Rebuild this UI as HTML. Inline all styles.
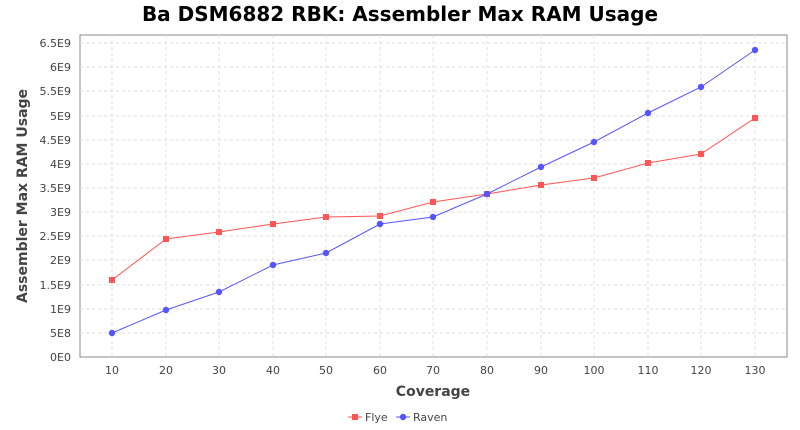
<!DOCTYPE html>
<html><head><meta charset="utf-8"><style>
html,body{margin:0;padding:0;background:#fff;width:800px;height:430px;overflow:hidden}
svg text{font-family:"DejaVu Sans",sans-serif}
</style></head><body>
<svg width="800" height="430" viewBox="0 0 800 430" xmlns="http://www.w3.org/2000/svg">
<rect width="800" height="430" fill="#fff"/>
<text x="400" y="21" text-anchor="middle" font-size="20" font-weight="bold" fill="#000">Ba DSM6882 RBK: Assembler Max RAM Usage</text>
<rect x="80" y="35" width="707" height="322" fill="#fff" stroke="#888" stroke-width="1"/>
<g stroke="#ddd" stroke-dasharray="3,3" stroke-width="1">
<line x1="80" x2="787" y1="333" y2="333"/><line x1="80" x2="787" y1="309" y2="309"/><line x1="80" x2="787" y1="285" y2="285"/><line x1="80" x2="787" y1="260" y2="260"/><line x1="80" x2="787" y1="236" y2="236"/><line x1="80" x2="787" y1="212" y2="212"/><line x1="80" x2="787" y1="188" y2="188"/><line x1="80" x2="787" y1="164" y2="164"/><line x1="80" x2="787" y1="140" y2="140"/><line x1="80" x2="787" y1="116" y2="116"/><line x1="80" x2="787" y1="91" y2="91"/><line x1="80" x2="787" y1="67" y2="67"/><line x1="80" x2="787" y1="43" y2="43"/>
<line y1="35" y2="357" x1="112" x2="112"/><line y1="35" y2="357" x1="166" x2="166"/><line y1="35" y2="357" x1="219" x2="219"/><line y1="35" y2="357" x1="273" x2="273"/><line y1="35" y2="357" x1="326" x2="326"/><line y1="35" y2="357" x1="380" x2="380"/><line y1="35" y2="357" x1="433" x2="433"/><line y1="35" y2="357" x1="487" x2="487"/><line y1="35" y2="357" x1="541" x2="541"/><line y1="35" y2="357" x1="594" x2="594"/><line y1="35" y2="357" x1="648" x2="648"/><line y1="35" y2="357" x1="701" x2="701"/><line y1="35" y2="357" x1="755" x2="755"/>
</g>
<g font-size="11" fill="#444" text-anchor="end">
<text x="71" y="361">0E0</text><text x="71" y="337">5E8</text><text x="71" y="313">1E9</text><text x="71" y="289">1.5E9</text><text x="71" y="264">2E9</text><text x="71" y="240">2.5E9</text><text x="71" y="216">3E9</text><text x="71" y="192">3.5E9</text><text x="71" y="168">4E9</text><text x="71" y="144">4.5E9</text><text x="71" y="120">5E9</text><text x="71" y="95">5.5E9</text><text x="71" y="71">6E9</text><text x="71" y="47">6.5E9</text>
</g>
<g font-size="11" fill="#444" text-anchor="middle">
<text x="112" y="374">10</text><text x="166" y="374">20</text><text x="219" y="374">30</text><text x="273" y="374">40</text><text x="326" y="374">50</text><text x="380" y="374">60</text><text x="433" y="374">70</text><text x="487" y="374">80</text><text x="541" y="374">90</text><text x="594" y="374">100</text><text x="648" y="374">110</text><text x="701" y="374">120</text><text x="755" y="374">130</text>
</g>
<text x="433" y="396" text-anchor="middle" font-size="14" font-weight="bold" fill="#444">Coverage</text>
<text transform="translate(27,196) rotate(-90)" text-anchor="middle" font-size="14" font-weight="bold" fill="#444">Assembler Max RAM Usage</text>
<polyline fill="none" stroke="#ff5555" stroke-width="1" points="112,280 166,239 219,232 273,224 326,217 380,216 433,202 487,194 541,185 594,178 648,163 701,154 755,118"/>
<g fill="#ff5555">
<rect x="109" y="277" width="6" height="6"/><rect x="163" y="236" width="6" height="6"/><rect x="216" y="229" width="6" height="6"/><rect x="270" y="221" width="6" height="6"/><rect x="323" y="214" width="6" height="6"/><rect x="377" y="213" width="6" height="6"/><rect x="430" y="199" width="6" height="6"/><rect x="484" y="191" width="6" height="6"/><rect x="538" y="182" width="6" height="6"/><rect x="591" y="175" width="6" height="6"/><rect x="645" y="160" width="6" height="6"/><rect x="698" y="151" width="6" height="6"/><rect x="752" y="115" width="6" height="6"/>
</g>
<polyline fill="none" stroke="#5555ff" stroke-width="1" points="112,333 166,310 219,292 273,265 326,253 380,224 433,217 487,194 541,167 594,142 648,113 701,87 755,50"/>
<g fill="#5555ff">
<circle cx="112" cy="333" r="3.2"/><circle cx="166" cy="310" r="3.2"/><circle cx="219" cy="292" r="3.2"/><circle cx="273" cy="265" r="3.2"/><circle cx="326" cy="253" r="3.2"/><circle cx="380" cy="224" r="3.2"/><circle cx="433" cy="217" r="3.2"/><circle cx="487" cy="194" r="3.2"/><circle cx="541" cy="167" r="3.2"/><circle cx="594" cy="142" r="3.2"/><circle cx="648" cy="113" r="3.2"/><circle cx="701" cy="87" r="3.2"/><circle cx="755" cy="50" r="3.2"/>
</g>
<line x1="348" x2="362" y1="417" y2="417" stroke="#ff5555"/><rect x="352" y="414" width="6" height="6" fill="#ff5555"/>
<text x="365" y="421" font-size="11" fill="#444">Flye</text>
<line x1="396" x2="410" y1="417" y2="417" stroke="#5555ff"/><circle cx="403" cy="417" r="3.2" fill="#5555ff"/>
<text x="413" y="421" font-size="11" fill="#444">Raven</text>
</svg>
</body></html>
